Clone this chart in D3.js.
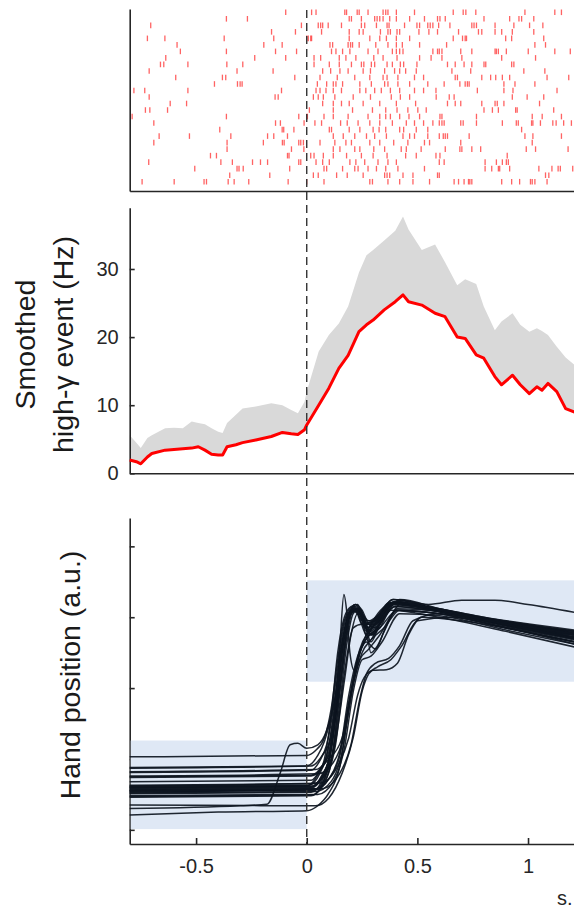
<!DOCTYPE html>
<html>
<head>
<meta charset="utf-8">
<script src="https://cdn.jsdelivr.net/npm/d3@7"></script>
<style>
	body { margin: 0; background: #fff; }
	svg { display: block; font-family: "Liberation Sans", Arial, Helvetica, sans-serif; }
	.axis path, .axis line { stroke: #262626; stroke-width: 1.6; }
	.axis text { font-size: 20px; fill: #262626; font-family: "Liberation Sans", Arial, sans-serif; }
	.axis-title { font-size: 28.5px; fill: #1a1a1a; }
</style>
</head>
<body>
<div id="chart"></div>
<script>
// spike times per trial (ms, relative to go cue)
const spikeTimesMs = [
	[-95, 22, 42, 172, 180, 228, 237, 277, 345, 357, 367, 405, 487, 662, 707, 719, 764, 986, 1121, 1151],
	[-363, -268, 192, 202, 247, 307, 318, 330, 345, 375, 405, 465, 532, 591, 602, 626, 801, 917, 959, 971, 1026],
	[-705, -24, 52, 63, 72, 97, 157, 247, 262, 315, 363, 372, 442, 498, 510, 547, 558, 570, 596, 647, 746, 756, 767, 851, 936, 1007, 1067],
	[-159, -51, 67, 192, 237, 255, 333, 367, 378, 408, 420, 507, 552, 591, 686, 776, 791, 851, 881, 929, 1026],
	[-720, -641, -373, -149, 0, 7, 18, 22, 192, 285, 330, 360, 405, 465, 662, 704, 716, 722, 899, 926, 1071],
	[-586, -194, -111, 105, 117, 187, 198, 207, 237, 312, 367, 405, 432, 510, 632, 1031, 1079],
	[-571, -363, -141, -46, 112, 132, 162, 195, 277, 322, 387, 405, 420, 435, 570, 591, 599, 611, 696, 746, 851, 857, 866, 902, 1001, 1121, 1191],
	[-637, -235, -95, 33, 63, 147, 177, 222, 303, 345, 408, 510, 562, 611, 701, 881, 1034],
	[-661, -646, -537, -361, -289, 33, 102, 147, 202, 247, 258, 292, 307, 363, 387, 423, 438, 498, 636, 671, 711, 746, 801, 809, 926, 936],
	[-712, -315, -152, 72, 108, 150, 187, 255, 288, 352, 397, 420, 447, 495, 656, 741, 981, 1076],
	[-592, -381, -366, -54, 60, 138, 217, 285, 345, 363, 412, 487, 528, 671, 681, 791, 831, 854, 884, 917, 1086, 1184],
	[-417, -313, -301, -292, 48, 90, 120, 132, 162, 240, 292, 352, 367, 412, 465, 547, 621, 692, 716, 726, 734, 891, 941, 1031],
	[-781, -732, -537, -114, 42, 60, 87, 120, 157, 240, 267, 307, 337, 378, 420, 487, 528, 584, 771, 891, 932, 1131],
	[-712, -143, -129, 30, 52, 75, 127, 210, 288, 382, 423, 465, 585, 644, 666, 929, 996, 1071],
	[-617, -543, 72, 120, 157, 192, 255, 330, 405, 492, 636, 671, 696, 791, 851, 861, 891, 1052],
	[-729, -709, -629, 12, 120, 207, 297, 357, 408, 457, 502, 540, 801, 839, 866, 944, 951, 1116],
	[-789, -363, -36, 0, 3, 78, 120, 187, 277, 330, 357, 378, 420, 462, 510, 602, 611, 767, 1019, 1064, 1151],
	[-691, -141, -119, -12, 37, 67, 153, 183, 232, 285, 330, 387, 450, 487, 528, 570, 599, 611, 621, 696, 707, 767, 884, 947, 956, 1016, 1022, 1056, 1112, 1127, 1161, 1196],
	[-393, -111, -104, -58, 102, 112, 192, 240, 300, 327, 357, 420, 438, 495, 547, 971],
	[-667, -530, -343, -177, -149, -87, 120, 165, 217, 270, 307, 360, 435, 465, 487, 547, 599, 617, 626, 636, 734, 986, 1022, 1151],
	[-691, -360, -196, -110, -102, -36, -27, -15, 60, 127, 177, 202, 285, 330, 393, 457, 532, 555, 696, 1019],
	[-360, -69, -13, 120, 150, 217, 240, 303, 352, 427, 450, 517, 626, 692, 701, 746, 786, 992, 1034, 1181],
	[-435, -408, -87, -80, 18, 33, 75, 120, 180, 247, 300, 363, 447, 495, 584, 602, 906],
	[-714, -388, -336, -245, -209, -177, -36, -27, 42, 72, 102, 195, 222, 262, 322, 367, 405, 599, 621, 806, 857, 884, 902, 911],
	[-506, -315, -306, -287, -77, 78, 90, 162, 217, 232, 277, 315, 357, 412, 532, 806, 836, 866, 872, 917, 1049, 1108, 1136, 1146, 1202],
	[-348, -167, 30, 52, 135, 183, 255, 352, 363, 375, 435, 480, 591, 599, 1079, 1094],
	[-744, -599, -464, -453, -355, -328, -262, -84, 0, 78, 285, 297, 367, 420, 480, 555, 666, 686, 711, 731, 737, 746, 881, 926, 962, 1011, 1019, 1031, 1086]
];

// smoothed high-gamma event rate (Hz): mean and upper bound of the shaded band
const gammaTime = [-0.80, -0.77, -0.75, -0.72, -0.70, -0.64, -0.60, -0.56, -0.52, -0.49, -0.46, -0.43, -0.40, -0.38, -0.36, -0.32, -0.29, -0.23, -0.16, -0.11, -0.07, -0.04, -0.01, 0.00,
	0.054, 0.10, 0.145, 0.187, 0.236, 0.27, 0.30, 0.35, 0.40, 0.435, 0.46, 0.52, 0.58, 0.625, 0.68, 0.716, 0.766, 0.80, 0.85, 0.88, 0.93, 0.965, 1.006, 1.04, 1.063, 1.09, 1.13, 1.17, 1.21];
const gammaMean = [1.95, 1.7, 1.4, 2.4, 2.9, 3.4, 3.5, 3.6, 3.7, 3.9, 3.4, 2.8, 2.7, 2.7, 3.9, 4.2, 4.5, 4.9, 5.4, 6.0, 5.8, 5.7, 6.4, 7.1,
	10.0, 12.5, 15.4, 17.3, 20.8, 21.8, 22.5, 24.0, 25.2, 26.2, 25.2, 24.7, 23.5, 23.0, 20.0, 19.8, 17.4, 16.9, 14.2, 13.0, 14.4, 13.0, 11.7, 12.7, 12.2, 13.2, 12.0, 9.5, 9.0];
const gammaUpper = [5.6, 4.5, 3.7, 5.2, 5.6, 6.6, 6.7, 6.6, 7.6, 7.4, 7.2, 6.6, 6.1, 5.9, 7.4, 8.6, 9.5, 9.8, 10.3, 10.0, 9.3, 8.8, 10.5, 12.0,
	17.9, 20.3, 22.0, 24.5, 29.5, 32.0, 32.8, 34.2, 35.6, 37.7, 35.8, 32.8, 33.6, 31.0, 27.6, 28.5, 27.8, 24.5, 21.0, 22.3, 23.5, 21.8, 20.8, 21.3, 20.9, 20.3, 18.6, 17.0, 15.9];

// hand position traces, [time (s), position (a.u.)]
const handTraces = [
	[[-0.8, 1.03], [0.0, 1.05], [0.04, 1.12], [0.08, 1.3], [0.11, 1.7], [0.14, 2.4], [0.17, 2.95], [0.21, 3.15], [0.25, 2.95], [0.28, 2.9], [0.33, 3.05], [0.4, 3.22], [0.55, 3.12], [0.75, 3.0], [1.0, 2.86], [1.21, 2.75]],
	[[-0.8, 0.88], [0.0, 0.9], [0.05, 1.05], [0.08, 1.25], [0.11, 1.6], [0.14, 2.3], [0.17, 2.9], [0.2, 3.1], [0.23, 3.05], [0.27, 2.75], [0.31, 2.9], [0.38, 3.2], [0.5, 3.15], [0.7, 3.02], [0.95, 2.9], [1.21, 2.78]],
	[[-0.8, 0.87], [0.02, 0.9], [0.07, 1.05], [0.11, 1.3], [0.15, 2.0], [0.18, 2.7], [0.21, 3.1], [0.24, 3.12], [0.27, 2.92], [0.31, 2.95], [0.36, 3.1], [0.42, 3.24], [0.6, 3.1], [0.85, 2.95], [1.21, 2.8]],
	[[-0.8, 0.82], [0.04, 0.85], [0.1, 1.0], [0.16, 1.3], [0.2, 1.95], [0.24, 2.55], [0.28, 2.8], [0.33, 2.95], [0.4, 3.15], [0.55, 3.1], [0.8, 2.95], [1.21, 2.7]],
	[[-0.8, 0.81], [0.02, 0.84], [0.06, 0.98], [0.09, 1.2], [0.12, 1.7], [0.15, 2.4], [0.18, 2.95], [0.21, 3.12], [0.24, 3.1], [0.27, 2.85], [0.31, 2.95], [0.39, 3.25], [0.55, 3.15], [0.8, 3.0], [1.21, 2.82]],
	[[-0.8, 0.75], [0.02, 0.77], [0.07, 0.9], [0.11, 1.15], [0.14, 1.8], [0.17, 2.6], [0.2, 3.05], [0.23, 3.1], [0.26, 2.9], [0.29, 2.75], [0.33, 2.95], [0.4, 3.22], [0.6, 3.1], [0.9, 2.9], [1.21, 2.7]],
	[[-0.8, 0.74], [0.02, 0.76], [0.07, 0.88], [0.1, 1.1], [0.13, 1.7], [0.15, 2.6], [0.168, 3.32], [0.18, 3.1], [0.195, 2.5], [0.215, 2.25], [0.25, 2.6], [0.3, 2.95], [0.38, 3.18], [0.55, 3.12], [0.85, 2.95], [1.21, 2.8]],
	[[-0.8, 0.76], [0.05, 0.79], [0.12, 0.95], [0.17, 1.35], [0.21, 2.05], [0.25, 2.5], [0.29, 2.68], [0.35, 2.85], [0.42, 3.1], [0.6, 3.05], [0.9, 2.85], [1.21, 2.65]],
	[[-0.8, 0.61], [0.01, 0.63], [0.06, 0.8], [0.09, 1.05], [0.12, 1.6], [0.15, 2.4], [0.18, 2.95], [0.21, 3.12], [0.24, 3.12], [0.27, 2.9], [0.31, 2.9], [0.38, 3.2], [0.55, 3.12], [0.8, 2.98], [1.21, 2.78]],
	[[-0.8, 0.6], [0.03, 0.62], [0.08, 0.78], [0.12, 1.1], [0.15, 1.8], [0.18, 2.6], [0.21, 3.05], [0.24, 3.12], [0.27, 2.85], [0.3, 2.75], [0.34, 3.0], [0.41, 3.22], [0.6, 3.08], [0.9, 2.9], [1.21, 2.72]],
	[[-0.8, 0.62], [0.06, 0.66], [0.14, 0.9], [0.19, 1.3], [0.23, 1.9], [0.26, 2.15], [0.3, 2.25], [0.36, 2.26], [0.41, 2.35], [0.46, 2.75], [0.52, 3.0], [0.7, 2.95], [1.0, 2.78], [1.21, 2.62]],
	[[-0.8, 0.57], [0.02, 0.59], [0.07, 0.75], [0.1, 1.0], [0.13, 1.6], [0.16, 2.5], [0.19, 3.0], [0.22, 3.18], [0.25, 3.1], [0.28, 2.9], [0.31, 2.85], [0.36, 3.05], [0.42, 3.25], [0.6, 3.12], [0.9, 2.92], [1.21, 2.76]],
	[[-0.8, 0.56], [0.04, 0.58], [0.1, 0.72], [0.15, 1.05], [0.19, 1.8], [0.23, 2.4], [0.27, 2.65], [0.31, 2.55], [0.35, 2.8], [0.41, 3.12], [0.6, 3.08], [0.9, 2.88], [1.21, 2.7]],
	[[-0.8, 0.58], [0.02, 0.6], [0.07, 0.78], [0.11, 1.1], [0.14, 1.9], [0.17, 2.75], [0.2, 3.1], [0.23, 3.12], [0.26, 2.95], [0.29, 2.8], [0.33, 2.98], [0.39, 3.22], [0.6, 3.1], [0.9, 2.94], [1.21, 2.8]],
	[[-0.8, 0.54], [0.03, 0.56], [0.08, 0.72], [0.12, 1.15], [0.155, 2.1], [0.185, 2.9], [0.215, 3.15], [0.245, 3.0], [0.28, 2.65], [0.32, 2.85], [0.4, 3.2], [0.6, 3.1], [0.9, 2.9], [1.21, 2.72]],
	[[-0.8, 0.52], [0.04, 0.54], [0.11, 0.68], [0.16, 1.1], [0.2, 1.9], [0.24, 2.4], [0.28, 2.55], [0.33, 2.75], [0.41, 3.1], [0.6, 3.05], [0.9, 2.86], [1.21, 2.68]],
	[[-0.8, 0.51], [0.02, 0.53], [0.07, 0.7], [0.1, 0.95], [0.13, 1.7], [0.16, 2.6], [0.19, 3.0], [0.22, 3.12], [0.25, 3.0], [0.28, 2.8], [0.31, 2.92], [0.39, 3.2], [0.6, 3.08], [0.9, 2.9], [1.21, 2.74]],
	[[-0.8, 0.53], [0.07, 0.58], [0.15, 0.8], [0.2, 1.2], [0.24, 1.85], [0.27, 2.2], [0.31, 2.35], [0.37, 2.42], [0.42, 2.6], [0.48, 2.95], [0.6, 3.05], [0.9, 2.88], [1.21, 2.7]],
	[[-0.8, 0.47], [0.02, 0.49], [0.08, 0.66], [0.11, 0.95], [0.14, 1.7], [0.17, 2.6], [0.2, 3.05], [0.23, 3.1], [0.26, 2.95], [0.29, 2.65], [0.33, 2.9], [0.4, 3.2], [0.6, 3.08], [0.9, 2.9], [1.21, 2.75]],
	[[-0.8, 0.48], [0.05, 0.5], [0.12, 0.68], [0.17, 1.15], [0.21, 1.95], [0.25, 2.4], [0.29, 2.45], [0.34, 2.65], [0.42, 3.05], [0.6, 3.02], [0.9, 2.82], [1.21, 2.62]],
	[[-0.8, 0.46], [0.02, 0.48], [0.07, 0.64], [0.1, 0.95], [0.13, 1.7], [0.16, 2.6], [0.19, 3.05], [0.22, 3.18], [0.25, 3.05], [0.28, 2.95], [0.32, 3.02], [0.39, 3.25], [0.55, 3.18], [0.7, 3.24], [0.85, 3.24], [1.0, 3.18], [1.21, 3.07]],
	[[-0.8, 0.3], [-0.3, 0.34], [-0.18, 0.36], [-0.12, 0.8], [-0.075, 1.2], [-0.04, 1.22], [0.0, 1.15], [0.05, 1.2], [0.09, 1.4], [0.13, 1.9], [0.16, 2.6], [0.19, 3.0], [0.22, 3.1], [0.25, 2.9], [0.3, 2.95], [0.38, 3.2], [0.6, 3.08], [0.9, 2.88], [1.21, 2.7]],
	[[-0.8, 0.35], [0.04, 0.34], [0.1, 0.45], [0.16, 0.8], [0.21, 1.3], [0.25, 1.95], [0.28, 2.2], [0.32, 2.3], [0.38, 2.4], [0.43, 2.6], [0.5, 2.95], [0.65, 3.0], [0.9, 2.85], [1.21, 2.66]],
	[[-0.8, 0.21], [-0.4, 0.25], [0.0, 0.27], [0.05, 0.34], [0.1, 0.52], [0.15, 0.9], [0.19, 1.7], [0.23, 2.4], [0.27, 2.7], [0.33, 2.85], [0.41, 3.1], [0.6, 3.05], [0.9, 2.85], [1.21, 2.65]],
	[[-0.8, 0.6], [0.0, 0.62], [0.05, 0.78], [0.08, 1.0], [0.11, 1.6], [0.14, 2.5], [0.17, 3.0], [0.2, 3.15], [0.23, 3.18], [0.26, 2.95], [0.3, 2.95], [0.37, 3.2], [0.55, 3.14], [0.85, 2.97], [1.21, 2.8]],
	[[-0.8, 0.55], [0.04, 0.57], [0.1, 0.72], [0.15, 1.1], [0.19, 1.9], [0.23, 2.45], [0.27, 2.7], [0.32, 2.85], [0.4, 3.15], [0.6, 3.08], [0.9, 2.9], [1.21, 2.72]],
	[[-0.8, 0.59], [0.02, 0.61], [0.07, 0.76], [0.1, 1.0], [0.13, 1.75], [0.16, 2.6], [0.19, 3.02], [0.22, 3.15], [0.25, 3.05], [0.28, 2.85], [0.32, 2.97], [0.4, 3.22], [0.6, 3.1], [0.9, 2.93], [1.21, 2.77]],
	[[-0.8, 0.55], [0.04, 0.57], [0.09, 0.74], [0.13, 1.2], [0.17, 2.2], [0.21, 2.85], [0.25, 2.9], [0.29, 2.75], [0.33, 2.85], [0.38, 3.1], [0.6, 3.0], [0.9, 2.8], [1.21, 2.58]],
	[[-0.8, 0.68], [0.02, 0.7], [0.06, 0.85], [0.09, 1.05], [0.12, 1.55], [0.15, 2.35], [0.18, 2.9], [0.21, 3.1], [0.24, 3.05], [0.27, 2.8], [0.31, 2.9], [0.38, 3.18], [0.6, 3.1], [0.9, 2.92], [1.21, 2.76]],
	[[-0.8, 0.63], [0.03, 0.65], [0.09, 0.82], [0.13, 1.25], [0.17, 2.1], [0.2, 2.75], [0.23, 3.05], [0.26, 3.0], [0.29, 2.5], [0.32, 2.6], [0.37, 2.95], [0.43, 3.2], [0.6, 3.1], [0.9, 2.9], [1.21, 2.7]]
];

// start and target zones (time span, position span)
const handZones = [
	{ t0: -0.8, t1: 0, p0: 0.01, p1: 1.26 },
	{ t0: 0, t1: 1.21, p0: 2.09, p1: 3.52 }
];

const timeTicks = [-0.5, 0, 0.5, 1];
const gammaTicks = [0, 10, 20, 30];
const handTicks = [0, 1, 2, 3, 4];

const width = 574, height = 912;
const plotLeft = 129.7, plotRight = 574.5;
const panels = {
	raster: { top: 9, bottom: 191 },
	gamma: { top: 207.7, bottom: 473.3 },
	hand: { top: 518, bottom: 844 }
};

const svg = d3.select('#chart').append('svg')
	.attr('width', width)
	.attr('height', height);

const xScale = d3.scaleLinear().domain([-0.8, 1.21]).range([plotLeft, plotRight]);

/**
 * Draw a left + bottom axis pair for a panel
 */
function drawFrame(yScale, yTicks, yFormat, xTicks) {
	let yAxis = d3.axisLeft(yScale).tickValues(yTicks).tickSizeInner(-5).tickSizeOuter(0).tickPadding(11);
	if (yFormat !== null) yAxis.tickFormat(yFormat);
	svg.append('g')
		.attr('class', 'axis')
		.attr('transform', `translate(${plotLeft},0)`)
		.call(yAxis);

	let xAxis = d3.axisBottom(xScale).tickValues(xTicks).tickSizeInner(-6).tickSizeOuter(0).tickPadding(15)
		.tickFormat(d => String(d));
	svg.append('g')
		.attr('class', 'axis')
		.attr('transform', `translate(0,${yScale.range()[0]})`)
		.call(xAxis);
}

// ---- raster ----
const rasterFrame = d3.scaleLinear().domain([0, 1]).range([panels.raster.bottom, panels.raster.top]);
drawFrame(rasterFrame, [], null, []);

const trialScale = d3.scalePoint()
	.domain(d3.range(spikeTimesMs.length))
	.range([panels.raster.top + 3.3, panels.raster.bottom - 9.3]);

const spikes = spikeTimesMs.flatMap((train, i) => train.map(ms => ({ trial: i, t: ms / 1000 })));
svg.append('g').selectAll('line')
	.data(spikes)
	.join('line')
	.attr('x1', d => xScale(d.t))
	.attr('x2', d => xScale(d.t))
	.attr('y1', d => trialScale(d.trial) - 2.8)
	.attr('y2', d => trialScale(d.trial) + 2.8)
	.attr('stroke', '#ff3c3c')
	.attr('stroke-opacity', 0.8)
	.attr('stroke-width', 1.3);

// ---- smoothed high-gamma ----
const gammaY = d3.scaleLinear().domain([0, 39]).range([panels.gamma.bottom, panels.gamma.top]);
const gammaRows = gammaTime.map((t, i) => ({ t: t, mean: gammaMean[i], upper: gammaUpper[i] }));

svg.append('path')
	.datum(gammaRows)
	.attr('fill', '#d9d9d9')
	.attr('d', d3.area().x(d => xScale(d.t)).y0(d => gammaY(d.mean)).y1(d => gammaY(d.upper)));

drawFrame(gammaY, gammaTicks, d => String(d), []);

svg.append('path')
	.datum(gammaRows)
	.attr('fill', 'none')
	.attr('stroke', '#ff0000')
	.attr('stroke-width', 3)
	.attr('stroke-linejoin', 'round')
	.attr('d', d3.line().x(d => xScale(d.t)).y(d => gammaY(d.mean)));

// ---- hand position ----
const handY = d3.scaleLinear().domain([-0.2, 4.4]).range([panels.hand.bottom, panels.hand.top]);
drawFrame(handY, handTicks, '', timeTicks);

svg.append('g').selectAll('rect')
	.data(handZones)
	.join('rect')
	.attr('x', d => xScale(d.t0) + (d.t0 === xScale.domain()[0] ? 1 : 0))
	.attr('width', d => xScale(d.t1) - xScale(d.t0) - (d.t0 === xScale.domain()[0] ? 1 : 0))
	.attr('y', d => handY(d.p1))
	.attr('height', d => handY(d.p0) - handY(d.p1))
	.attr('fill', '#dfe8f5');

const handLine = d3.line()
	.curve(d3.curveMonotoneX)
	.x(d => xScale(d[0]))
	.y(d => handY(d[1]));

svg.append('g').selectAll('path')
	.data(handTraces)
	.join('path')
	.attr('fill', 'none')
	.attr('stroke', '#0d1520')
	.attr('stroke-opacity', 0.92)
	.attr('stroke-width', 1.5)
	.attr('d', handLine);

// go cue marker across all panels
svg.append('line')
	.attr('x1', xScale(0))
	.attr('x2', xScale(0))
	.attr('y1', panels.raster.top + 1)
	.attr('y2', panels.hand.bottom)
	.attr('stroke', '#333')
	.attr('stroke-width', 1.4)
	.attr('stroke-dasharray', '8,5');

// axis titles
const gammaMid = (panels.gamma.top + panels.gamma.bottom) / 2 + 4;
const gammaTitle = svg.append('g').attr('class', 'axis-title');
gammaTitle.append('text')
	.attr('transform', `translate(35,${gammaMid}) rotate(-90)`)
	.attr('text-anchor', 'middle')
	.text('Smoothed');
gammaTitle.append('text')
	.attr('transform', `translate(73,${gammaMid}) rotate(-90)`)
	.attr('text-anchor', 'middle')
	.text('high-γ event (Hz)');

svg.append('text')
	.attr('class', 'axis-title')
	.attr('transform', `translate(80,${(panels.hand.top + panels.hand.bottom) / 2 - 6}) rotate(-90)`)
	.attr('text-anchor', 'middle')
	.text('Hand position (a.u.)');

svg.append('text')
	.attr('x', 557)
	.attr('y', 905)
	.attr('font-size', 20)
	.attr('fill', '#262626')
	.text('s.');
</script>
</body>
</html>
